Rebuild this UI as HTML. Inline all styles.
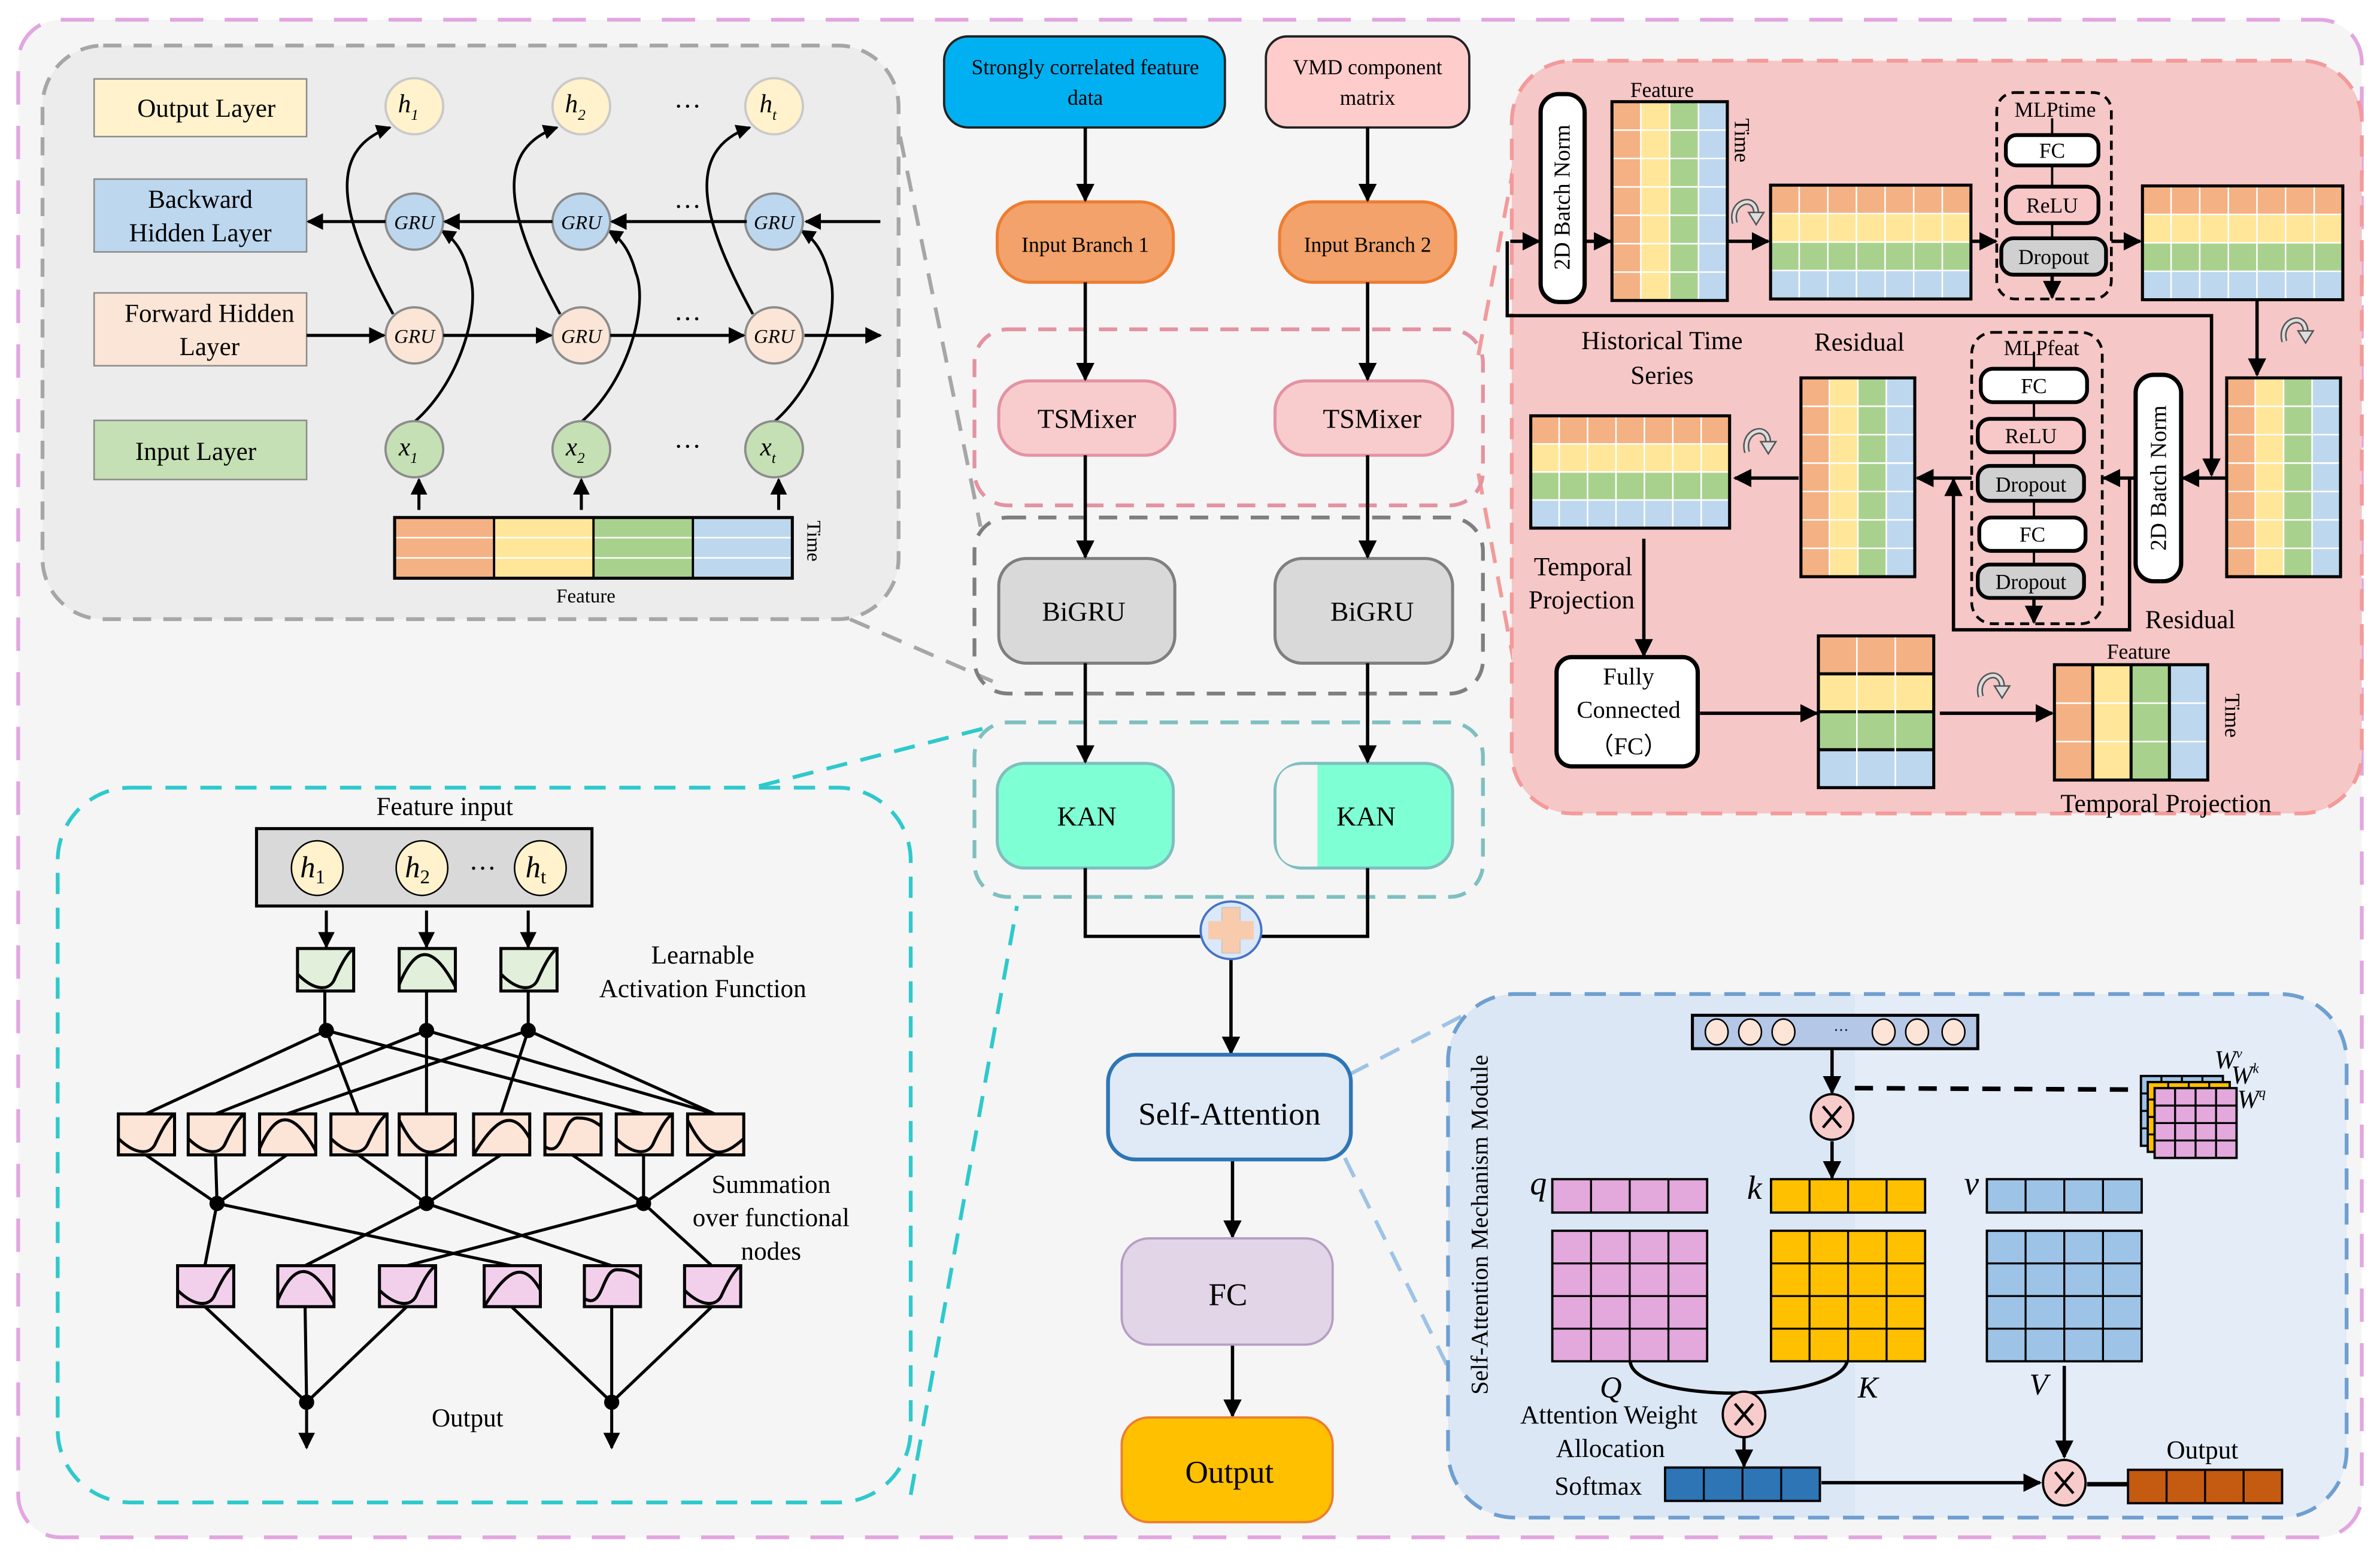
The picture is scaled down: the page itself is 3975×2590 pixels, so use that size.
<!DOCTYPE html>
<html><head><meta charset="utf-8"><style>
html,body{margin:0;padding:0;background:#fff}
svg{display:block}
text{font-family:"Liberation Serif",serif;fill:#000}
</style></head><body>
<svg id="s" xmlns="http://www.w3.org/2000/svg" width="3975" height="2590" viewBox="0 0 1568 1022" preserveAspectRatio="none">
<defs>
<marker id="a" viewBox="0 0 10 10" refX="9" refY="5" markerWidth="5.5" markerHeight="5.5" orient="auto"><path d="M0,0L10,5L0,10z" fill="#000"/></marker>
</defs>
<rect x="0" y="0" width="1568" height="1022" fill="#fff"/>
<rect x="12" y="13" width="1544" height="1000" rx="28" fill="#f5f5f5" stroke="#e2a6e0" stroke-width="2.5" stroke-dasharray="22,14"/>

<g fill="none" stroke-width="2.5" stroke-dasharray="14,9">
<path d="M593,90 L646,347" stroke="#a6a6a6"/>
<path d="M560,408 L654,449" stroke="#a6a6a6"/>
<path d="M500,518 L652,479" stroke="#2ec9cc"/>
<path d="M600,985 L670,597" stroke="#2ec9cc"/>
<path d="M974,234 L1000,95" stroke="#f39a9a"/>
<path d="M974,312 L998,440" stroke="#f39a9a"/>
<path d="M889,708 L966,668" stroke="#9dc3e6"/>
<path d="M886,763 L956,905" stroke="#9dc3e6"/>
</g>

<rect x="28" y="30" width="564" height="378" rx="40" fill="#ececec" stroke="#a6a6a6" stroke-width="2.5" stroke-dasharray="12,8"/>
<rect x="62" y="52" width="140" height="38" fill="#fff2cc" stroke="#8c8c8c" stroke-width="1"/>
<text x="136" y="77" font-size="17" text-anchor="middle">Output Layer</text>
<rect x="62" y="118" width="140" height="48" fill="#bdd7ee" stroke="#8c8c8c" stroke-width="1"/>
<text x="132" y="137" font-size="17" text-anchor="middle">Backward</text>
<text x="132" y="159" font-size="17" text-anchor="middle">Hidden Layer</text>
<rect x="62" y="193" width="140" height="48" fill="#fbe5d6" stroke="#8c8c8c" stroke-width="1"/>
<text x="138" y="212" font-size="17" text-anchor="middle">Forward Hidden</text>
<text x="138" y="234" font-size="17" text-anchor="middle">Layer</text>
<rect x="62" y="277" width="140" height="39" fill="#c5e0b4" stroke="#8c8c8c" stroke-width="1"/>
<text x="129" y="303" font-size="17" text-anchor="middle">Input Layer</text>

<g id="bigru"></g>
<g stroke="#000" stroke-width="2" fill="none">
<line x1="580" y1="146" x2="531" y2="146" marker-end="url(#a)"/>
<line x1="492" y1="146" x2="403" y2="146" marker-end="url(#a)"/>
<line x1="364" y1="146" x2="293" y2="146" marker-end="url(#a)"/>
<line x1="254" y1="146" x2="203" y2="146" marker-end="url(#a)"/>
<line x1="202" y1="221" x2="253" y2="221" marker-end="url(#a)"/>
<line x1="292" y1="221" x2="363" y2="221" marker-end="url(#a)"/>
<line x1="402" y1="221" x2="490" y2="221" marker-end="url(#a)"/>
<line x1="530" y1="221" x2="580" y2="221" marker-end="url(#a)"/>
<line x1="276" y1="336" x2="276" y2="316" marker-end="url(#a)"/>
<line x1="383" y1="336" x2="383" y2="316" marker-end="url(#a)"/>
<line x1="513" y1="336" x2="513" y2="316" marker-end="url(#a)"/>
</g>
<text x="453" y="76" font-size="18" text-anchor="middle">···</text>
<text x="453" y="142" font-size="18" text-anchor="middle">···</text>
<text x="453" y="216" font-size="18" text-anchor="middle">···</text>
<text x="453" y="300" font-size="18" text-anchor="middle">···</text>
<g id="fbar"></g>
<text x="386" y="397" font-size="13" text-anchor="middle">Feature</text>
<text x="0" y="0" font-size="13" transform="translate(532,343) rotate(90)">Time</text>

<rect x="642" y="217" width="335" height="116" rx="22" fill="none" stroke="#e393a3" stroke-width="2.5" stroke-dasharray="12,8"/>
<rect x="642" y="341" width="335" height="116" rx="22" fill="none" stroke="#7f7f7f" stroke-width="2.5" stroke-dasharray="12,8"/>
<rect x="642" y="476" width="335" height="115" rx="22" fill="none" stroke="#7fbfbf" stroke-width="2.5" stroke-dasharray="12,8"/>

<rect x="622" y="24" width="185" height="60" rx="16" fill="#00b0f0" stroke="#222" stroke-width="1.5"/>
<text x="715" y="49" font-size="14" text-anchor="middle">Strongly correlated feature</text>
<text x="715" y="69" font-size="14" text-anchor="middle">data</text>
<rect x="834" y="24" width="134" height="60" rx="14" fill="#ffcccc" stroke="#222" stroke-width="1.5"/>
<text x="901" y="49" font-size="14" text-anchor="middle">VMD component</text>
<text x="901" y="69" font-size="14" text-anchor="middle">matrix</text>

<rect x="657" y="133" width="116" height="53" rx="22" fill="#f2a26a" stroke="#ed7d31" stroke-width="2"/>
<text x="715" y="166" font-size="14" text-anchor="middle">Input Branch  1</text>
<rect x="843" y="133" width="116" height="53" rx="22" fill="#f2a26a" stroke="#ed7d31" stroke-width="2"/>
<text x="901" y="166" font-size="14" text-anchor="middle">Input Branch  2</text>

<rect x="658" y="251" width="116" height="49" rx="20" fill="#f8cccc" stroke="#e393a3" stroke-width="2"/>
<text x="716" y="282" font-size="18" text-anchor="middle">TSMixer</text>
<rect x="840" y="251" width="117" height="49" rx="20" fill="#f8cccc" stroke="#e393a3" stroke-width="2"/>
<text x="904" y="282" font-size="18" text-anchor="middle">TSMixer</text>

<rect x="658" y="368" width="116" height="69" rx="18" fill="#d9d9d9" stroke="#7f7f7f" stroke-width="2"/>
<text x="714" y="409" font-size="18" text-anchor="middle">BiGRU</text>
<rect x="840" y="368" width="117" height="69" rx="18" fill="#d9d9d9" stroke="#7f7f7f" stroke-width="2"/>
<text x="904" y="409" font-size="18" text-anchor="middle">BiGRU</text>

<rect x="657" y="503" width="116" height="69" rx="18" fill="#7fffd4" stroke="#7fbfbf" stroke-width="2"/>
<text x="716" y="544" font-size="18" text-anchor="middle">KAN</text>
<rect x="840" y="503" width="117" height="69" rx="18" fill="#7fffd4" stroke="#7fbfbf" stroke-width="2"/>
<path d="M868,504 L858,504 Q841,504 841,521 L841,554 Q841,571 858,571 L868,571 Z" fill="#f5f5f5"/>
<text x="900" y="544" font-size="18" text-anchor="middle">KAN</text>

<g stroke="#000" stroke-width="2.2" fill="none">
<line x1="715" y1="84" x2="715" y2="132" marker-end="url(#a)"/>
<line x1="901" y1="84" x2="901" y2="132" marker-end="url(#a)"/>
<line x1="715" y1="186" x2="715" y2="250" marker-end="url(#a)"/>
<line x1="901" y1="186" x2="901" y2="250" marker-end="url(#a)"/>
<line x1="715" y1="300" x2="715" y2="367" marker-end="url(#a)"/>
<line x1="901" y1="300" x2="901" y2="367" marker-end="url(#a)"/>
<line x1="715" y1="437" x2="715" y2="502" marker-end="url(#a)"/>
<line x1="901" y1="437" x2="901" y2="502" marker-end="url(#a)"/>
<polyline points="715,572 715,617 792,617"/>
<polyline points="901,572 901,617 830,617"/>
<line x1="811" y1="632" x2="811" y2="694" marker-end="url(#a)"/>
<line x1="812" y1="764" x2="812" y2="815" marker-end="url(#a)"/>
<line x1="812" y1="886" x2="812" y2="933" marker-end="url(#a)"/>
</g>
<ellipse cx="811" cy="613" rx="20" ry="19" fill="#dae8fa" stroke="#4472c4" stroke-width="1.5"/>
<rect x="805" y="598" width="12" height="30" fill="#f8cbad" stroke="#c9c9c9" stroke-width="0.8"/>
<rect x="796" y="607" width="30" height="12" fill="#f8cbad" stroke="none"/>

<rect x="730" y="695" width="160" height="69" rx="18" fill="#dfeaf6" stroke="#2e75b6" stroke-width="2.5"/>
<text x="810" y="741" font-size="21" text-anchor="middle">Self-Attention</text>
<rect x="739" y="816" width="139" height="70" rx="18" fill="#e1d5e7" stroke="#b79ec4" stroke-width="1.5"/>
<text x="809" y="860" font-size="21" text-anchor="middle">FC</text>
<rect x="739" y="934" width="139" height="69" rx="18" fill="#ffc000" stroke="#ed7d31" stroke-width="1.5"/>
<text x="810" y="977" font-size="21" text-anchor="middle">Output</text>

<rect x="996" y="40" width="560" height="496" rx="40" fill="#f6c7c7" stroke="#f39a9a" stroke-width="2.5" stroke-dasharray="14,9"/>
<g id="tsm"></g>
<g fill="#fff" stroke="#000" stroke-width="2.8">
<rect x="1015" y="62" width="29" height="137" rx="12"/>
<rect x="1407" y="247" width="30" height="136" rx="12"/>
<rect x="1025.5" y="433" width="93" height="72" rx="10"/>
</g>
<text font-size="15" text-anchor="middle" transform="translate(1034,130) rotate(-90)">2D Batch Norm</text>
<text font-size="15" text-anchor="middle" transform="translate(1427,315) rotate(-90)">2D Batch Norm</text>
<text x="1073" y="451" font-size="16" text-anchor="middle">Fully</text>
<text x="1073" y="473" font-size="16" text-anchor="middle">Connected</text>
<text x="1073" y="497" font-size="16" text-anchor="middle">（FC）</text>

<rect x="1315.5" y="61" width="75.5" height="136" rx="12" fill="none" stroke="#000" stroke-width="1.8" stroke-dasharray="6,4"/>
<rect x="1299" y="219" width="86" height="192" rx="14" fill="none" stroke="#000" stroke-width="1.8" stroke-dasharray="6,4"/>
<g stroke="#000" stroke-width="1.5"><line x1="1352" y1="78" x2="1352" y2="182"/><line x1="1340" y1="232" x2="1340" y2="395"/></g>
<text x="1354" y="77" font-size="14" text-anchor="middle">MLPtime</text>
<text x="1345" y="234" font-size="14" text-anchor="middle">MLPfeat</text>
<g stroke="#000" stroke-width="2.5">
<rect x="1321.5" y="89" width="61" height="20" rx="7" fill="#fff"/>
<rect x="1321.5" y="123" width="61" height="24" rx="8" fill="#f8c8c8"/>
<rect x="1318.5" y="157" width="69" height="24" rx="8" fill="#d0d0d0"/>
<rect x="1305" y="243" width="70" height="22" rx="8" fill="#fff"/>
<rect x="1303" y="276" width="70" height="22" rx="8" fill="#f8c8c8"/>
<rect x="1303" y="307" width="70" height="23" rx="8" fill="#d0d0d0"/>
<rect x="1304" y="341" width="70" height="22" rx="8" fill="#fff"/>
<rect x="1303" y="372" width="70" height="22" rx="8" fill="#d0d0d0"/>
</g>
<g font-size="14" text-anchor="middle">
<text x="1352" y="104">FC</text><text x="1352" y="140">ReLU</text><text x="1353" y="174">Dropout</text>
<text x="1340" y="259">FC</text><text x="1338" y="292">ReLU</text><text x="1338" y="324">Dropout</text>
<text x="1339" y="357">FC</text><text x="1338" y="388">Dropout</text>
</g>
<g stroke="#000" stroke-width="2.2" fill="none">
<line x1="995" y1="159" x2="1014" y2="159" marker-end="url(#a)"/>
<line x1="1044" y1="159" x2="1061" y2="159" marker-end="url(#a)"/>
<line x1="1139" y1="159" x2="1165" y2="159" marker-end="url(#a)"/>
<line x1="1299" y1="159" x2="1315" y2="159" marker-end="url(#a)"/>
<line x1="1391" y1="159" x2="1410" y2="159" marker-end="url(#a)"/>
<line x1="1352" y1="181" x2="1352" y2="196" marker-end="url(#a)"/>
<line x1="1487" y1="198" x2="1487" y2="247" marker-end="url(#a)"/>
<line x1="1467" y1="315" x2="1438" y2="315" marker-end="url(#a)"/>
<line x1="1407" y1="315" x2="1386" y2="315" marker-end="url(#a)"/>
<line x1="1299" y1="315" x2="1263" y2="315" marker-end="url(#a)"/>
<line x1="1185" y1="315" x2="1143" y2="315" marker-end="url(#a)"/>
<line x1="1340" y1="394" x2="1340" y2="410" marker-end="url(#a)"/>
<line x1="1083" y1="355" x2="1083" y2="432" marker-end="url(#a)"/>
<line x1="1120" y1="470" x2="1197" y2="470" marker-end="url(#a)"/>
<line x1="1278" y1="470" x2="1352" y2="470" marker-end="url(#a)"/>
<polyline points="993,159 993,208 1457,208 1457,313" marker-end="url(#a)"/>
<polyline points="1403,315 1403,415 1287,415 1287,316" marker-end="url(#a)"/>
</g>
<g font-size="17" text-anchor="middle">
<text x="1095" y="230">Historical Time</text>
<text x="1095" y="253">Series</text>
<text x="1225" y="231">Residual</text>
<text x="1443" y="414">Residual</text>
<text x="1043" y="379">Temporal</text>
<text x="1042" y="401">Projection</text>
<text x="1427" y="535">Temporal Projection</text>
</g>
<text x="1095" y="64" font-size="14" text-anchor="middle">Feature</text>
<text x="1409" y="434" font-size="14" text-anchor="middle">Feature</text>
<text font-size="14" transform="translate(1143,78) rotate(90)">Time</text>
<text font-size="14" transform="translate(1466,457) rotate(90)">Time</text>
<g id="rot"></g>

<rect x="38" y="519" width="562" height="471" rx="48" fill="#f5f5f5" stroke="#2ec9cc" stroke-width="2.5" stroke-dasharray="14,9"/>
<text x="293" y="537" font-size="17" text-anchor="middle">Feature input</text>
<rect x="169" y="546" width="221" height="51" fill="#d9d9d9" stroke="#000" stroke-width="2"/>
<g id="kan"></g>
<text x="463" y="635" font-size="17" text-anchor="middle">Learnable</text>
<text x="463" y="657" font-size="17" text-anchor="middle">Activation Function</text>
<text x="508" y="786" font-size="17" text-anchor="middle">Summation</text>
<text x="508" y="808" font-size="17" text-anchor="middle">over functional</text>
<text x="508" y="830" font-size="17" text-anchor="middle">nodes</text>
<text x="308" y="940" font-size="17" text-anchor="middle">Output</text>

<defs><clipPath id="cp"><rect x="954" y="655" width="592" height="345" rx="44"/></clipPath></defs>
<g clip-path="url(#cp)">
<rect x="954" y="655" width="592" height="345" fill="#e3ecf7"/>
<rect x="954" y="655" width="268" height="345" fill="#dbe7f5"/>
</g>
<rect x="954" y="655" width="592" height="345" rx="44" fill="none" stroke="#6f9fd0" stroke-width="2.5" stroke-dasharray="14,9"/>
<text font-size="16" text-anchor="middle" transform="translate(980,807) rotate(-90)">Self-Attention Mechanism Module</text>
<rect x="1115" y="669" width="188" height="22" fill="#b4c7e7" stroke="#000" stroke-width="2"/>
<g fill="#fce4d6" stroke="#000" stroke-width="1">
<ellipse cx="1131" cy="680" rx="7.5" ry="8.5"/><ellipse cx="1153" cy="680" rx="7.5" ry="8.5"/><ellipse cx="1175" cy="680" rx="7.5" ry="8.5"/>
<ellipse cx="1241" cy="680" rx="7.5" ry="8.5"/><ellipse cx="1263" cy="680" rx="7.5" ry="8.5"/><ellipse cx="1287" cy="680" rx="7.5" ry="8.5"/>
</g>
<text x="1213" y="682" font-size="10" text-anchor="middle">···</text>
<g id="att"></g>
<g stroke="#000" stroke-width="2.2" fill="none">
<line x1="1207" y1="692" x2="1207" y2="720" marker-end="url(#a)"/>
<line x1="1207" y1="752" x2="1207" y2="776" marker-end="url(#a)"/>
<line x1="1222" y1="717" x2="1410" y2="718" stroke-width="3" stroke-dasharray="12,9"/>
<path d="M1074,897 C1076,925 1210,925 1217,897"/>
<line x1="1149" y1="947" x2="1149" y2="966" marker-end="url(#a)"/>
<line x1="1200" y1="977" x2="1344" y2="977" marker-end="url(#a)"/>
<line x1="1360" y1="900" x2="1360" y2="960" marker-end="url(#a)"/>
<line x1="1375" y1="978" x2="1402" y2="978" stroke-width="3"/>
</g>
<g fill="#f8cbcb" stroke="#000" stroke-width="1.5">
<ellipse cx="1207" cy="736" rx="14" ry="15"/><ellipse cx="1149" cy="932" rx="14" ry="15"/><ellipse cx="1360" cy="977" rx="14" ry="15"/>
</g>
<g stroke="#000" stroke-width="1.8">
<path d="M1201,729 L1213,743 M1213,729 L1201,743"/>
<path d="M1143,925 L1155,939 M1155,925 L1143,939"/>
<path d="M1354,970 L1366,984 M1366,970 L1354,984"/>
</g>
<g font-style="italic" font-size="22">
<text x="1008" y="787">q</text><text x="1151" y="790">k</text><text x="1294" y="787">v</text>
<text x="1054" y="921" font-size="20">Q</text><text x="1224" y="921" font-size="20">K</text><text x="1337" y="919" font-size="20">V</text>
</g>
<g font-style="italic" font-size="17">
<text x="1459" y="704">W<tspan font-size="9" dy="-7">v</tspan></text>
<text x="1470" y="714">W<tspan font-size="9" dy="-7">k</tspan></text>
<text x="1474" y="730">W<tspan font-size="9" dy="-7">q</tspan></text>
</g>
<g font-size="17" text-anchor="middle">
<text x="1060" y="938">Attention Weight</text>
<text x="1061" y="960">Allocation</text>
<text x="1053" y="985">Softmax</text>
<text x="1451" y="961">Output</text>
</g>
</svg>
<script>
(function(){
var NS="http://www.w3.org/2000/svg";
function el(p,t,a){var e=document.createElementNS(NS,t);for(var k in a)e.setAttribute(k,a[k]);p.appendChild(e);return e;}
function g(id){return document.getElementById(id);}
var C=["#f4b183","#ffe699","#a9d18e","#bdd7ee"];
function grid(p,x,y,w,h,nr,nc,mode,sep,lc,bw){
 var cw=w/nc,rh=h/nr;
 for(var r=0;r<nr;r++)for(var c=0;c<nc;c++){
  var col=mode=="r"?C[Math.floor(r*4/nr)]:C[Math.floor(c*4/nc)];
  el(p,"rect",{x:x+c*cw,y:y+r*rh,width:cw+0.3,height:rh+0.3,fill:col});
 }
 lc=lc||"#fff";
 for(var r=1;r<nr;r++){var blk=sep&&mode=="r";el(p,"line",{x1:x,x2:x+w,y1:y+r*rh,y2:y+r*rh,stroke:blk?"#000":lc,"stroke-width":blk?2:1});}
 for(var c=1;c<nc;c++){var blk=sep&&mode=="c";el(p,"line",{y1:y,y2:y+h,x1:x+c*cw,x2:x+c*cw,stroke:blk?"#000":lc,"stroke-width":blk?2:1});}
 el(p,"rect",{x:x,y:y,width:w,height:h,fill:"none",stroke:"#000","stroke-width":bw||2});
}
var fb=g("fbar");
for(var i=0;i<4;i++){el(fb,"rect",{x:260+i*65.5,y:341,width:65.5,height:40,fill:C[i]});}
for(var j=1;j<3;j++)el(fb,"line",{x1:260,x2:522,y1:341+j*13.3,y2:341+j*13.3,stroke:"#fff","stroke-width":1});
for(var i=1;i<4;i++)el(fb,"line",{x1:260+i*65.5,x2:260+i*65.5,y1:341,y2:381,stroke:"#000","stroke-width":1.5});
el(fb,"rect",{x:260,y:341,width:262,height:40,fill:"none",stroke:"#000","stroke-width":2});
var bg=g("bigru");
var xs=[273,383,510],subs=["1","2","t"];
xs.forEach(function(cx,i){
 el(bg,"path",{d:"M"+(cx-14)+",207 C"+(cx-45)+",150 "+(cx-62)+",100 "+(cx-16)+",84",fill:"none",stroke:"#000","stroke-width":1.8,"marker-end":"url(#a)"});
 el(bg,"path",{d:"M"+cx+",278 C"+(cx+32)+",250 "+(cx+44)+",200 "+(cx+36)+",180 C"+(cx+32)+",165 "+(cx+26)+",157 "+(cx+18)+",152",fill:"none",stroke:"#000","stroke-width":1.8,"marker-end":"url(#a)"});
});
var rows=[[70,"#fff2cc","#c9c9c9","h"],[146,"#bdd7ee","#8c8c8c","GRU"],[221,"#fbe5d6","#8c8c8c","GRU"],[296,"#c5e0b4","#8c8c8c","x"]];
rows.forEach(function(r){xs.forEach(function(cx,i){
 el(bg,"ellipse",{cx:cx,cy:r[0],rx:19,ry:18.5,fill:r[1],stroke:r[2],"stroke-width":1.5});
 if(r[3]=="GRU"){var t=el(bg,"text",{x:cx,y:r[0]+5,"font-size":13,"font-style":"italic","text-anchor":"middle"});t.textContent="GRU";}
 else{var t=el(bg,"text",{x:cx-4,y:r[0]+4,"font-size":17,"font-style":"italic","text-anchor":"middle"});t.textContent=r[3];
  var s=el(t,"tspan",{"font-size":10,dy:5});s.textContent=subs[i];}
});});
var ts=g("tsm");
grid(ts,1062,67,76,131,7,4,"c");
grid(ts,1166.5,122,132,75,4,7,"r");
grid(ts,1411.5,122.5,132,75,4,7,"r");
grid(ts,1467,249,75,131,7,4,"c");
grid(ts,1186.5,249,75,131,7,4,"c");
grid(ts,1008.5,274,131,74,4,7,"r");
grid(ts,1198,419,76,100,4,3,"r",true,"#fff",2);
grid(ts,1353.5,438,101,76,3,4,"c",true,"#fff",2);
var ro=g("rot");
[[1151,139],[1513,217],[1159,290],[1313,451]].forEach(function(p,i){
 var x=p[0],y=p[1];
 el(ro,"path",{d:"M"+(x-8)+","+(y+8)+" C"+(x-12)+","+(y-6)+" "+(x+6)+","+(y-12)+" "+(x+6)+","+(y+2),fill:"none",stroke:"#555","stroke-width":4});
 el(ro,"path",{d:"M"+(x-8)+","+(y+8)+" C"+(x-12)+","+(y-6)+" "+(x+6)+","+(y-12)+" "+(x+6)+","+(y+2),fill:"none",stroke:"#ddd","stroke-width":2});
 el(ro,"path",{d:"M"+(x+1)+","+(y+1)+" L"+(x+11)+","+(y+1)+" L"+(x+6)+","+(y+9)+"Z",fill:"#ddd",stroke:"#555","stroke-width":1});
});
var kn=g("kan");
function curve(x,y,w,h,t){
 var P={u:[[0,.6],[.3,1,.55,1,.65,.75],[.8,.3,.9,.1,1,0]],
  b:[[0,.85],[.3,-.1,.6,-.1,1,.9]],
  v:[[0,.15],[.35,1.1,.6,1.1,1,.6]],
  s:[[0,.8],[.35,1.1,.3,.05,.6,.1],[.8,.1,.9,.2,1,.3]],
  r:[[0,1],[.4,.1,.7,-.15,1,.6]]}[t];
 var d="M"+(x+P[0][0]*w)+","+(y+P[0][1]*h);
 for(var i=1;i<P.length;i++){var q=P[i];d+=" C"+(x+q[0]*w)+","+(y+q[1]*h)+" "+(x+q[2]*w)+","+(y+q[3]*h)+" "+(x+q[4]*w)+","+(y+q[5]*h);}
 el(kn,"path",{d:d,fill:"none",stroke:"#000","stroke-width":2});
}
function box(x,y,w,h,f,t){el(kn,"rect",{x:x,y:y,width:w,height:h,fill:f,stroke:"#000","stroke-width":2});curve(x,y,w,h,t);}
function ln(a,b,c,d){el(kn,"line",{x1:a,y1:b,x2:c,y2:d,stroke:"#000","stroke-width":2});}
function dot(x,y){el(kn,"ellipse",{cx:x,cy:y,rx:5,ry:5,fill:"#000"});}
[[209,"1"],[278,"2"],[356,"t"]].forEach(function(h){
 el(kn,"ellipse",{cx:h[0],cy:572,rx:17,ry:18,fill:"#fff2cc",stroke:"#000","stroke-width":1});
 var t=el(kn,"text",{x:h[0]-3,y:578,"font-size":20,"font-style":"italic","text-anchor":"middle"});t.textContent="h";
 var s=el(t,"tspan",{"font-size":13,dy:4,"font-style":"normal"});s.textContent=h[1];
});
var tt=el(kn,"text",{x:318,y:578,"font-size":18,"text-anchor":"middle"});tt.textContent="···";
var gx=[196,263,330],dx=[215,281,348];
gx.forEach(function(x,i){
 el(kn,"line",{x1:dx[i],y1:600,x2:dx[i],y2:624,stroke:"#000","stroke-width":2,"marker-end":"url(#a)"});
 ln(x+18,653,x+18,679);
});
var r2=[78,124,171,218,263,312,359,406,453],t2=["u","u","b","u","v","r","s","u","v"];
var conn=[[0,0],[0,3],[0,7],[1,1],[1,4],[1,8],[2,2],[2,5],[2,8]];
conn.forEach(function(c){ln(dx[c[0]],679,r2[c[1]]+18,734);});
var n2=[143,281,424];
r2.forEach(function(x,i){ln(x+18,761,n2[Math.floor(i/3)],793);});
var r3=[117,183,250,319,385,451],t3=["u","b","u","r","s","u"];
[[0,0],[0,3],[1,1],[1,4],[2,2],[2,5]].forEach(function(c){ln(n2[c[0]],793,r3[c[1]]+18,834);});
var o=[202,403];
r3.forEach(function(x,i){ln(x+18,861,o[Math.floor(i/3)],924);});
gx.forEach(function(x,i){box(x,625,37,28,"#e2efda",["u","b","u"][i]);});
dx.forEach(function(x){dot(x,679);});
r2.forEach(function(x,i){box(x,734,37,27,"#fce4d6",t2[i]);});
n2.forEach(function(x){dot(x,793);});
r3.forEach(function(x,i){box(x,834,37,27,"#f2d0ec",t3[i]);});
o.forEach(function(x){dot(x,924);el(kn,"line",{x1:x,y1:924,x2:x,y2:954,stroke:"#000","stroke-width":2,"marker-end":"url(#a)"});});
var at=g("att");
function mat(x,y,w,h,nr,nc,f){
 el(at,"rect",{x:x,y:y,width:w,height:h,fill:f,stroke:"#000","stroke-width":1.5});
 for(var r=1;r<nr;r++)el(at,"line",{x1:x,x2:x+w,y1:y+r*h/nr,y2:y+r*h/nr,stroke:"#000","stroke-width":1.3});
 for(var c=1;c<nc;c++)el(at,"line",{y1:y,y2:y+h,x1:x+c*w/nc,x2:x+c*w/nc,stroke:"#000","stroke-width":1.3});
}
mat(1410.5,709,54,46,4,4,"#9dc3e6");
mat(1415,713,54,46,4,4,"#ffc000");
mat(1419.5,717,54,46,4,4,"#e3a8dc");
mat(1022.7,777,102,22,1,4,"#e3a8dc");
mat(1166.8,777,101.5,22,1,4,"#ffc000");
mat(1309,777,102,22,1,4,"#9dc3e6");
mat(1022.7,811,102,86,4,4,"#e3a8dc");
mat(1166.8,811,101.5,86,4,4,"#ffc000");
mat(1309,811,102,86,4,4,"#9dc3e6");
mat(1097,967,102,22,1,4,"#2e75b6");
mat(1402,968.5,101.5,22,1,4,"#c55a11");
})();
</script>
</body></html>
